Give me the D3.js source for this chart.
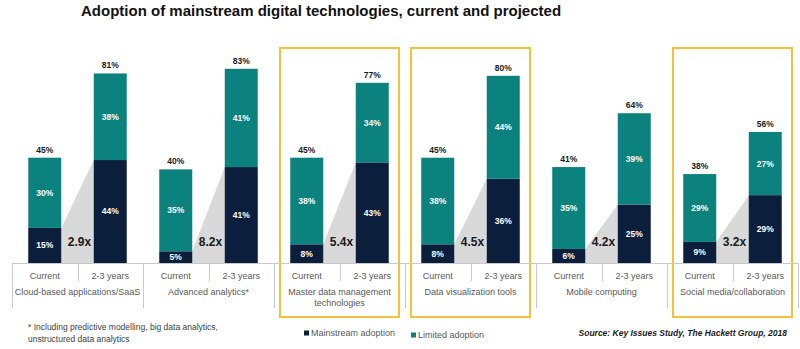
<!DOCTYPE html>
<html>
<head>
<meta charset="utf-8">
<script src="https://cdn.jsdelivr.net/npm/d3@7"></script>
<style>
	body { margin: 0; background: #fff; }
	text { font-family: "Liberation Sans", Arial, sans-serif; }
</style>
</head>
<body>
<main></main>
<script>

// DATA
const categories = [
	["Cloud-based applications/SaaS"],
	["Advanced analytics*"],
	["Master data management", "technologies"],
	["Data visualization tools"],
	["Mobile computing"],
	["Social media/collaboration"]
];
const periods = ["Current", "2-3 years"];
// mainstream adoption (dark)
const mainstreamCurrent = [15, 5, 8, 8, 6, 9];
const mainstreamFuture = [44, 41, 43, 36, 25, 29];
// limited adoption (teal)
const limitedCurrent = [30, 35, 38, 38, 35, 29];
const limitedFuture = [38, 41, 34, 44, 39, 27];
// totals shown above bars
const totalCurrent = [45, 40, 45, 45, 41, 38];
const totalFuture = [81, 83, 77, 80, 64, 56];
// growth multiplier of mainstream adoption
const multipliers = ["2.9x", "8.2x", "5.4x", "4.5x", "4.2x", "3.2x"];
// groups framed in yellow
const highlighted = [2, 3, 5];
const legendItems = ["Mainstream adoption", "Limited adoption"];


// CHART
const w = 800;
const h = 349;
const colDark = "#0b1f3d";
const colTeal = "#0b827d";
const colGrid = "#c8c8c8";

const svg = d3.select("main").append("svg")
	.attr("width", w)
	.attr("height", h);

// scales
const xOuter = d3.scaleBand()
	.domain(d3.range(categories.length))
	.range([12, 798]);
const xInner = d3.scalePoint()
	.domain(periods)
	.range([0, xOuter.bandwidth()])
	.padding(0.5);
const y = d3.scaleLinear()
	.domain([0, 100])
	.range([263, 29]);
const barW = 33;

// build rows
const rows = categories.map((c, i) => ({
	i,
	bars: [
		{ period: periods[0], main: mainstreamCurrent[i], lim: limitedCurrent[i], total: totalCurrent[i] },
		{ period: periods[1], main: mainstreamFuture[i], lim: limitedFuture[i], total: totalFuture[i] }
	]
}));

// title
svg.append("text")
	.attr("x", 81)
	.attr("y", 16)
	.attr("font-size", 15)
	.attr("font-weight", "bold")
	.attr("fill", "#111")
	.text("Adoption of mainstream digital technologies, current and projected");

// yellow frames
svg.selectAll(".frame")
	.data(highlighted)
	.enter()
	.append("rect")
		.attr("class", "frame")
		.attr("x", d => xOuter(d) + 6)
		.attr("y", 48)
		.attr("width", xOuter.bandwidth() - 12)
		.attr("height", 269)
		.attr("fill", "none")
		.attr("stroke", "#f3c13a")
		.attr("stroke-width", 2);

const g = svg.selectAll(".grp")
	.data(rows)
	.enter()
	.append("g")
		.attr("class", "grp")
		.attr("transform", d => `translate(${xOuter(d.i)},0)`);

// grey connector
g.append("polygon")
	.attr("fill", "#d9d9d9")
	.attr("points", d => {
		const x1 = xInner(periods[0]) + barW / 2;
		const x2 = xInner(periods[1]) - barW / 2;
		return [[x1, y(d.bars[0].main)], [x2, y(d.bars[1].main)], [x2, y(0)], [x1, y(0)]].join(" ");
	});

// bars
const bar = g.selectAll(".bar")
	.data(d => d.bars)
	.enter()
	.append("g")
		.attr("class", "bar")
		.attr("transform", d => `translate(${xInner(d.period) - barW / 2},0)`);

bar.append("rect")
	.attr("y", d => y(d.main))
	.attr("width", barW)
	.attr("height", d => y(0) - y(d.main))
	.attr("fill", colDark);
bar.append("rect")
	.attr("y", d => y(d.total))
	.attr("width", barW)
	.attr("height", d => y(d.main) - y(d.total))
	.attr("fill", colTeal);

// labels inside segments
bar.append("text")
	.attr("x", barW / 2)
	.attr("y", d => (y(d.main) + y(0)) / 2)
	.attr("dy", "0.35em")
	.attr("text-anchor", "middle")
	.attr("font-size", 8.5)
	.attr("font-weight", "bold")
	.attr("fill", "#fff")
	.text(d => d.main + "%");
bar.append("text")
	.attr("x", barW / 2)
	.attr("y", d => (y(d.main) + y(d.total)) / 2)
	.attr("dy", "0.35em")
	.attr("text-anchor", "middle")
	.attr("font-size", 8.5)
	.attr("font-weight", "bold")
	.attr("fill", "#fff")
	.text(d => d.lim + "%");
// totals
bar.append("text")
	.attr("x", barW / 2)
	.attr("y", d => y(d.total) - 5)
	.attr("text-anchor", "middle")
	.attr("font-size", 8.5)
	.attr("font-weight", "bold")
	.attr("fill", "#1a1a1a")
	.text(d => d.total + "%");

// multipliers
g.append("text")
	.attr("x", (xInner(periods[0]) + xInner(periods[1])) / 2 + 2)
	.attr("y", y(9))
	.attr("dy", "0.35em")
	.attr("text-anchor", "middle")
	.attr("font-size", 12)
	.attr("font-weight", "bold")
	.attr("fill", "#1a1a1a")
	.text(d => multipliers[d.i]);

// axis
svg.append("line")
	.attr("x1", xOuter.range()[0])
	.attr("x2", xOuter.range()[1])
	.attr("y1", y(0) + 0.5)
	.attr("y2", y(0) + 0.5)
	.attr("stroke", colGrid);
svg.selectAll(".div")
	.data(d3.range(categories.length + 1))
	.enter()
	.append("line")
		.attr("x1", d => Math.round(xOuter.range()[0] + d * xOuter.step()) + 0.5)
		.attr("x2", d => Math.round(xOuter.range()[0] + d * xOuter.step()) + 0.5)
		.attr("y1", y(0))
		.attr("y2", 308)
		.attr("stroke", colGrid);
g.append("line")
	.attr("x1", Math.round(xOuter.bandwidth() / 2) + 0.5)
	.attr("x2", Math.round(xOuter.bandwidth() / 2) + 0.5)
	.attr("y1", y(0))
	.attr("y2", 281)
	.attr("stroke", colGrid);

g.selectAll(".tick")
	.data(periods)
	.enter()
	.append("text")
		.attr("x", d => xInner(d))
		.attr("y", 279)
		.attr("text-anchor", "middle")
		.attr("font-size", 9)
		.attr("fill", "#595959")
		.text(d => d);

g.append("text")
	.attr("y", 295)
	.attr("text-anchor", "middle")
	.attr("font-size", 9)
	.attr("fill", "#595959")
	.selectAll("tspan")
	.data(d => categories[d.i])
	.enter()
	.append("tspan")
		.attr("x", xOuter.bandwidth() / 2)
		.attr("dy", (d, i) => i === 0 ? 0 : 11)
		.text(d => d);

// footnote
const foot = svg.append("text")
	.attr("font-size", 8.5)
	.attr("fill", "#404040");
foot.append("tspan").attr("x", 28).attr("y", 330)
	.text("* Including predictive modelling, big data analytics,");
foot.append("tspan").attr("x", 28).attr("y", 342)
	.text("unstructured data analytics");

// legend
const legendX = [304, 411];
const legendCol = [colDark, colTeal];
const leg = svg.selectAll(".leg")
	.data(legendItems)
	.enter()
	.append("g")
		.attr("class", "leg")
		.attr("transform", (d, i) => `translate(${legendX[i]},${333 + i * 2})`);
leg.append("rect")
	.attr("x", 0)
	.attr("y", -2.5)
	.attr("width", 5)
	.attr("height", 5)
	.attr("fill", (d, i) => legendCol[i]);
leg.append("text")
	.attr("x", 7)
	.attr("dy", "0.35em")
	.attr("font-size", 9)
	.attr("fill", "#595959")
	.text(d => d);

// source
svg.append("text")
	.attr("x", 787)
	.attr("y", 336)
	.attr("text-anchor", "end")
	.attr("font-size", 8.5)
	.attr("font-weight", "bold")
	.attr("font-style", "italic")
	.attr("fill", "#1a1a1a")
	.text("Source: Key Issues Study, The Hackett Group, 2018");

</script>
</body>
</html>
